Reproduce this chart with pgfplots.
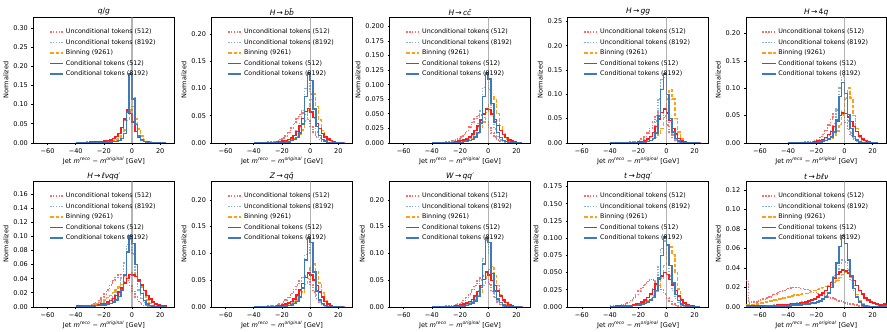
\documentclass[border=0pt]{standalone}
\usepackage{pgfplots}
\pgfplotsset{compat=1.18}
\usepackage{pgfplotstable}
\usepgfplotslibrary{groupplots}
\usepackage{fontspec}
\setmainfont{DejaVu Sans}

\definecolor{urc}{RGB}{250,110,110}
\definecolor{ubc}{RGB}{140,176,216}
\definecolor{bnc}{RGB}{255,160,20}
\definecolor{crc}{RGB}{255,25,25}
\definecolor{cbc}{RGB}{60,122,188}

% bin left edges (2 GeV), columns: uncond 512, uncond 8192, binning, cond 512, cond 8192
\pgfplotstableread{
x    ur     ub     bn     cr     cb
-40  0.001  0      0      0.001  0
-38  0.001  0      0      0.001  0
-36  0.001  0      0      0.001  0
-34  0.001  0      0.001  0.001  0
-32  0.002  0      0.001  0.001  0
-30  0.002  0.001  0.001  0.002  0.001
-28  0.002  0.001  0.001  0.002  0.001
-26  0.003  0.001  0.001  0.003  0.001
-24  0.003  0.001  0.002  0.003  0.001
-22  0.004  0.001  0.002  0.004  0.001
-20  0.005  0.002  0.003  0.005  0.001
-18  0.006  0.002  0.003  0.006  0.002
-16  0.008  0.003  0.004  0.008  0.002
-14  0.011  0.004  0.006  0.011  0.003
-12  0.015  0.005  0.008  0.016  0.004
-10  0.024  0.008  0.011  0.025  0.006
-8   0.038  0.014  0.018  0.040  0.011
-6   0.058  0.030  0.034  0.062  0.025
-4   0.078  0.075  0.058  0.086  0.080
-2   0.080  0.170  0.086  0.076  0.180
0    0.060  0.118  0.095  0.055  0.115
2    0.033  0.050  0.062  0.030  0.048
4    0.016  0.018  0.036  0.015  0.018
6    0.007  0.007  0.018  0.007  0.007
8    0.003  0.003  0.008  0.003  0.003
10   0.002  0.001  0.004  0.002  0.001
12   0.001  0.001  0.002  0.001  0.001
14   0.001  0      0.001  0.001  0
16   0      0      0.001  0      0
18   0      0      0      0      0
20   0      0      0      0      0
22   0      0      0      0      0
24   0      0      0      0      0
}\tqg

\pgfplotstableread{
x    ur     ub     bn     cr     cb
-40  0.001  0      0      0      0
-38  0.001  0      0      0      0
-36  0.001  0      0      0      0
-34  0.001  0      0      0.001  0
-32  0.001  0      0      0.001  0
-30  0.002  0      0      0.001  0
-28  0.002  0.001  0.001  0.001  0
-26  0.003  0.001  0.001  0.001  0.001
-24  0.004  0.001  0.001  0.002  0.001
-22  0.006  0.001  0.001  0.002  0.001
-20  0.009  0.002  0.002  0.003  0.001
-18  0.013  0.003  0.003  0.004  0.002
-16  0.019  0.005  0.004  0.006  0.002
-14  0.027  0.008  0.006  0.009  0.004
-12  0.036  0.014  0.008  0.014  0.006
-10  0.045  0.022  0.011  0.021  0.010
-8   0.052  0.036  0.016  0.031  0.018
-6   0.055  0.060  0.024  0.045  0.035
-4   0.052  0.100  0.040  0.058  0.085
-2   0.043  0.120  0.060  0.063  0.128
0    0.030  0.090  0.080  0.057  0.115
2    0.019  0.045  0.090  0.047  0.062
4    0.011  0.020  0.067  0.036  0.030
6    0.006  0.009  0.042  0.026  0.014
8    0.003  0.004  0.023  0.017  0.006
10   0.002  0.002  0.011  0.011  0.003
12   0.001  0.001  0.005  0.007  0.001
14   0.001  0      0.002  0.004  0.001
16   0      0      0.001  0.002  0
18   0      0      0      0.001  0
20   0      0      0      0.001  0
22   0      0      0      0      0
24   0      0      0      0      0
}\tbb

\pgfplotstableread{
x    ur     ub     bn     cr     cb
-40  0.001  0      0      0      0
-38  0.001  0      0      0      0
-36  0.001  0      0      0      0
-34  0.001  0      0      0.001  0
-32  0.001  0      0      0.001  0
-30  0.002  0      0.001  0.001  0
-28  0.002  0.001  0.001  0.001  0
-26  0.003  0.001  0.001  0.001  0.001
-24  0.005  0.001  0.001  0.002  0.001
-22  0.007  0.001  0.001  0.003  0.001
-20  0.010  0.002  0.002  0.004  0.001
-18  0.014  0.003  0.003  0.005  0.002
-16  0.020  0.005  0.004  0.007  0.003
-14  0.027  0.008  0.006  0.010  0.004
-12  0.035  0.013  0.008  0.015  0.006
-10  0.042  0.021  0.011  0.021  0.010
-8   0.047  0.033  0.016  0.029  0.018
-6   0.048  0.055  0.024  0.039  0.034
-4   0.044  0.095  0.036  0.050  0.080
-2   0.036  0.113  0.052  0.058  0.120
0    0.026  0.092  0.066  0.057  0.110
2    0.017  0.050  0.080  0.050  0.068
4    0.010  0.024  0.074  0.040  0.036
6    0.005  0.011  0.050  0.030  0.018
8    0.003  0.005  0.030  0.021  0.009
10   0.002  0.002  0.015  0.014  0.004
12   0.001  0.001  0.007  0.009  0.002
14   0      0      0.003  0.005  0.001
16   0      0      0.001  0.003  0
18   0      0      0      0.002  0
20   0      0      0      0.001  0
22   0      0      0      0      0
24   0      0      0      0      0
}\tcc

\pgfplotstableread{
x    ur     ub     bn     cr     cb
-40  0      0      0      0      0
-38  0      0      0      0      0
-36  0.001  0      0      0      0
-34  0.001  0      0      0      0
-32  0.001  0      0      0      0
-30  0.001  0      0      0.001  0
-28  0.001  0      0      0.001  0
-26  0.002  0.001  0      0.001  0
-24  0.002  0.001  0.001  0.001  0.001
-22  0.003  0.001  0.001  0.001  0.001
-20  0.005  0.001  0.001  0.002  0.001
-18  0.008  0.002  0.002  0.003  0.001
-16  0.013  0.003  0.002  0.005  0.002
-14  0.020  0.006  0.003  0.008  0.003
-12  0.030  0.011  0.005  0.013  0.005
-10  0.043  0.021  0.007  0.021  0.009
-8   0.056  0.045  0.011  0.034  0.020
-6   0.064  0.090  0.018  0.049  0.055
-4   0.062  0.130  0.030  0.063  0.110
-2   0.052  0.135  0.055  0.070  0.142
0    0.037  0.090  0.090  0.062  0.100
2    0.022  0.042  0.110  0.046  0.050
4    0.011  0.016  0.090  0.030  0.022
6    0.005  0.006  0.050  0.018  0.009
8    0.002  0.002  0.022  0.009  0.004
10   0.001  0.001  0.008  0.004  0.001
12   0      0      0.003  0.002  0.001
14   0      0      0.001  0.001  0
16   0      0      0      0      0
18   0      0      0      0      0
20   0      0      0      0      0
22   0      0      0      0      0
24   0      0      0      0      0
}\tgg

\pgfplotstableread{
x    ur     ub     bn     cr     cb
-40  0      0      0      0      0
-38  0      0      0      0      0
-36  0.001  0      0      0      0
-34  0.001  0      0      0      0
-32  0.001  0      0      0      0
-30  0.001  0      0      0.001  0
-28  0.002  0      0      0.001  0
-26  0.002  0.001  0      0.001  0
-24  0.003  0.001  0.001  0.001  0.001
-22  0.004  0.001  0.001  0.002  0.001
-20  0.006  0.002  0.001  0.003  0.001
-18  0.010  0.003  0.002  0.004  0.002
-16  0.015  0.005  0.003  0.006  0.003
-14  0.023  0.008  0.004  0.010  0.004
-12  0.033  0.013  0.006  0.015  0.007
-10  0.044  0.022  0.009  0.021  0.011
-8   0.054  0.035  0.014  0.030  0.020
-6   0.060  0.062  0.022  0.040  0.042
-4   0.058  0.100  0.034  0.050  0.085
-2   0.050  0.122  0.052  0.055  0.110
0    0.037  0.082  0.080  0.054  0.090
2    0.024  0.040  0.100  0.047  0.052
4    0.014  0.018  0.082  0.039  0.026
6    0.007  0.008  0.050  0.030  0.012
8    0.003  0.003  0.026  0.021  0.005
10   0.001  0.001  0.011  0.013  0.002
12   0.001  0      0.004  0.007  0.001
14   0      0      0.002  0.004  0
16   0      0      0.001  0.002  0
18   0      0      0      0.001  0
20   0      0      0      0      0
22   0      0      0      0      0
24   0      0      0      0      0
}\tfq

\pgfplotstableread{
x    ur     ub     bn     cr     cb
-40  0.001  0.001  0.001  0.001  0
-38  0.001  0.001  0.001  0.001  0
-36  0.001  0.001  0.001  0.001  0.001
-34  0.002  0.001  0.001  0.001  0.001
-32  0.002  0.001  0.002  0.001  0.001
-30  0.003  0.001  0.002  0.001  0.001
-28  0.004  0.002  0.003  0.002  0.001
-26  0.006  0.002  0.004  0.002  0.002
-24  0.009  0.003  0.006  0.003  0.002
-22  0.013  0.004  0.008  0.004  0.003
-20  0.018  0.006  0.010  0.005  0.003
-18  0.024  0.008  0.013  0.007  0.004
-16  0.031  0.011  0.016  0.009  0.005
-14  0.037  0.015  0.020  0.012  0.007
-12  0.042  0.021  0.024  0.016  0.010
-10  0.045  0.029  0.028  0.021  0.015
-8   0.046  0.041  0.032  0.027  0.024
-6   0.043  0.062  0.036  0.034  0.045
-4   0.037  0.088  0.040  0.040  0.078
-2   0.030  0.095  0.044  0.046  0.100
0    0.022  0.075  0.048  0.045  0.090
2    0.014  0.045  0.045  0.043  0.060
4    0.008  0.024  0.038  0.038  0.036
6    0.004  0.012  0.028  0.031  0.019
8    0.002  0.006  0.018  0.023  0.009
10   0.001  0.003  0.010  0.016  0.004
12   0.001  0.001  0.005  0.011  0.002
14   0      0.001  0.002  0.007  0.001
16   0      0      0.001  0.004  0
18   0      0      0      0.003  0
20   0      0      0      0.002  0
22   0      0      0      0.001  0
24   0      0      0      0      0
}\tlv

\pgfplotstableread{
x    ur     ub     bn     cr     cb
-40  0      0      0      0      0
-38  0      0      0      0      0
-36  0.001  0      0      0      0
-34  0.001  0      0      0      0
-32  0.001  0      0      0.001  0
-30  0.002  0      0      0.001  0
-28  0.002  0.001  0.001  0.001  0
-26  0.003  0.001  0.001  0.001  0.001
-24  0.004  0.001  0.001  0.002  0.001
-22  0.006  0.001  0.001  0.003  0.001
-20  0.009  0.002  0.002  0.004  0.001
-18  0.013  0.003  0.003  0.005  0.002
-16  0.018  0.005  0.004  0.007  0.003
-14  0.025  0.008  0.006  0.010  0.004
-12  0.033  0.013  0.009  0.015  0.006
-10  0.041  0.020  0.013  0.022  0.010
-8   0.049  0.032  0.019  0.032  0.018
-6   0.055  0.055  0.028  0.044  0.035
-4   0.058  0.098  0.042  0.055  0.088
-2   0.053  0.130  0.058  0.063  0.130
0    0.042  0.100  0.074  0.060  0.120
2    0.028  0.050  0.080  0.050  0.065
4    0.016  0.022  0.066  0.040  0.030
6    0.008  0.009  0.045  0.028  0.013
8    0.004  0.004  0.026  0.018  0.006
10   0.002  0.002  0.013  0.010  0.003
12   0.001  0.001  0.006  0.005  0.001
14   0      0      0.002  0.003  0.001
16   0      0      0.001  0.001  0
18   0      0      0      0.001  0
20   0      0      0      0      0
22   0      0      0      0      0
24   0      0      0      0      0
}\tzq

\pgfplotstableread{
x    ur     ub     bn     cr     cb
-40  0      0      0      0      0
-38  0      0      0      0      0
-36  0.001  0      0      0      0
-34  0.001  0      0      0      0
-32  0.001  0      0      0.001  0
-30  0.002  0      0      0.001  0
-28  0.002  0.001  0.001  0.001  0
-26  0.003  0.001  0.001  0.001  0.001
-24  0.004  0.001  0.001  0.002  0.001
-22  0.006  0.001  0.002  0.003  0.001
-20  0.008  0.002  0.002  0.004  0.002
-18  0.012  0.003  0.003  0.005  0.002
-16  0.017  0.005  0.005  0.007  0.003
-14  0.024  0.008  0.007  0.010  0.005
-12  0.032  0.013  0.010  0.014  0.007
-10  0.040  0.020  0.014  0.020  0.011
-8   0.048  0.030  0.020  0.029  0.019
-6   0.054  0.050  0.028  0.040  0.036
-4   0.058  0.090  0.040  0.051  0.080
-2   0.054  0.125  0.056  0.065  0.130
0    0.043  0.100  0.070  0.060  0.120
2    0.029  0.050  0.076  0.049  0.062
4    0.017  0.024  0.060  0.040  0.030
6    0.009  0.011  0.040  0.030  0.015
8    0.004  0.005  0.022  0.020  0.008
10   0.002  0.002  0.011  0.013  0.004
12   0.001  0.001  0.005  0.008  0.002
14   0      0      0.002  0.004  0.001
16   0      0      0.001  0.002  0
18   0      0      0      0.001  0
20   0      0      0      0.001  0
22   0      0      0      0      0
24   0      0      0      0      0
}\twq

\pgfplotstableread{
x    ur     ub     bn     cr     cb
-40  0.001  0      0      0      0
-38  0.001  0      0      0      0
-36  0.002  0      0      0.001  0
-34  0.002  0.001  0.001  0.001  0
-32  0.003  0.001  0.001  0.001  0.001
-30  0.004  0.001  0.001  0.001  0.001
-28  0.006  0.001  0.001  0.002  0.001
-26  0.009  0.002  0.002  0.002  0.001
-24  0.013  0.002  0.002  0.003  0.002
-22  0.018  0.003  0.003  0.004  0.002
-20  0.023  0.005  0.004  0.005  0.003
-18  0.028  0.007  0.005  0.007  0.004
-16  0.033  0.010  0.007  0.010  0.005
-14  0.037  0.014  0.009  0.014  0.007
-12  0.040  0.019  0.012  0.019  0.010
-10  0.039  0.026  0.016  0.025  0.014
-8   0.036  0.038  0.022  0.033  0.024
-6   0.031  0.058  0.030  0.040  0.042
-4   0.025  0.085  0.042  0.045  0.075
-2   0.019  0.096  0.060  0.050  0.102
0    0.013  0.075  0.080  0.047  0.090
2    0.008  0.045  0.087  0.040  0.060
4    0.004  0.024  0.076  0.032  0.035
6    0.002  0.012  0.050  0.024  0.018
8    0.001  0.006  0.026  0.016  0.009
10   0.001  0.003  0.012  0.010  0.004
12   0      0.001  0.005  0.006  0.002
14   0      0.001  0.002  0.003  0.001
16   0      0      0.001  0.002  0
18   0      0      0      0.001  0
20   0      0      0      0      0
22   0      0      0      0      0
24   0      0      0      0      0
}\ttq

\pgfplotstableread{
x    ur     ub     bn     cr     cb
-70  0.027  0.001  0.002  0.001  0.001
-68  0.004  0.001  0.002  0.001  0
-66  0.005  0.001  0.002  0.001  0
-64  0.005  0.001  0.003  0.001  0
-62  0.006  0.001  0.003  0.001  0
-60  0.007  0.001  0.004  0.001  0
-58  0.008  0.001  0.004  0.001  0
-56  0.009  0.001  0.005  0.001  0.001
-54  0.010  0.001  0.006  0.001  0.001
-52  0.012  0.001  0.006  0.001  0.001
-50  0.013  0.002  0.007  0.001  0.001
-48  0.015  0.002  0.008  0.002  0.001
-46  0.016  0.002  0.008  0.002  0.001
-44  0.017  0.002  0.009  0.002  0.001
-42  0.018  0.002  0.010  0.002  0.001
-40  0.019  0.003  0.010  0.002  0.001
-38  0.020  0.003  0.011  0.003  0.002
-36  0.020  0.003  0.012  0.003  0.002
-34  0.020  0.004  0.012  0.003  0.002
-32  0.019  0.004  0.013  0.004  0.002
-30  0.019  0.005  0.014  0.004  0.003
-28  0.018  0.005  0.014  0.005  0.003
-26  0.017  0.006  0.015  0.006  0.003
-24  0.016  0.007  0.016  0.007  0.004
-22  0.015  0.008  0.017  0.008  0.004
-20  0.014  0.010  0.018  0.010  0.005
-18  0.013  0.012  0.019  0.012  0.006
-16  0.012  0.014  0.020  0.014  0.008
-14  0.011  0.017  0.021  0.017  0.010
-12  0.010  0.021  0.022  0.021  0.014
-10  0.009  0.026  0.023  0.025  0.020
-8   0.008  0.032  0.025  0.029  0.030
-6   0.007  0.039  0.027  0.033  0.045
-4   0.006  0.045  0.030  0.036  0.062
-2   0.005  0.048  0.033  0.038  0.073
0    0.004  0.046  0.035  0.037  0.065
2    0.003  0.038  0.035  0.035  0.048
4    0.003  0.027  0.030  0.031  0.032
6    0.002  0.017  0.022  0.027  0.019
8    0.002  0.010  0.013  0.022  0.010
10   0.001  0.005  0.006  0.017  0.005
12   0.001  0.003  0.003  0.013  0.002
14   0.001  0.001  0.001  0.009  0.001
16   0      0.001  0      0.007  0
18   0      0      0      0.005  0
20   0      0      0      0.004  0
22   0      0      0      0.003  0
24   0      0      0      0.002  0
26   0      0      0      0.002  0
28   0.001  0.001  0.001  0.003  0.001
30   0      0      0      0      0
}\ttl

\pgfplotsset{
  urs/.style={const plot, color=urc, line width=1.4pt, dash pattern=on 1.4pt off 1.4pt},
  ubs/.style={const plot, color=ubc, line width=1.4pt, dash pattern=on 1.4pt off 1.4pt},
  bns/.style={const plot, color=bnc, line width=1.4pt, dash pattern=on 3.6pt off 1.8pt},
  crs/.style={const plot, color=crc, line width=1.5pt},
  cbs/.style={const plot, color=cbc, line width=1.5pt},
}

\newcommand{\hists}[1]{%
  \addplot[urs] table[x=x, y=ur] {#1};
  \addplot[ubs] table[x=x, y=ub] {#1};
  \addplot[bns] table[x=x, y=bn] {#1};
  \addplot[crs] table[x=x, y=cr] {#1};
  \addplot[cbs] table[x=x, y=cb] {#1};
  \addplot[gray, opacity=0.6, line width=1.2pt, forget plot] coordinates {(0,0) (0,1)};
  \legend{Unconditional tokens (512), Unconditional tokens (8192), Binning (9261), Conditional tokens (512), Conditional tokens (8192)}%
}

\begin{document}
\begin{tikzpicture}
\begin{groupplot}[
  group style={group size=5 by 2, horizontal sep=37pt, vertical sep=38pt},
  scale only axis, width=140pt, height=125pt,
  xmin=-70, xmax=30, ymin=0,
  xtick={-60,-40,-20,0,20},
  xticklabels={−60,−40,−20,0,20},
  tick align=outside, xtick pos=bottom, ytick pos=left,
  major tick length=2pt,
  axis line style={line width=0.6pt},
  tick style={black, line width=0.6pt},
  tick label style={font=\fontsize{6.5}{7}\selectfont},
  /pgf/number format/assume math mode=true,
  yticklabel style={/pgf/number format/.cd, fixed, fixed zerofill, precision=2},
  xlabel={Jet \textit{m\textsuperscript{reco}} − \textit{m\textsuperscript{original}} [GeV]},
  ylabel={Normalized},
  label style={font=\fontsize{6.5}{7}\selectfont},
  xlabel style={yshift=3pt},
  ylabel style={yshift=-2pt},
  title style={font=\fontsize{7.5}{8}\selectfont, yshift=-8pt},
  legend style={draw=none, fill=none, at={(0.09,0.94)}, anchor=north west,
    font=\fontsize{6.3}{7}\selectfont, row sep=0.1pt},
  legend cell align=left,
  legend image code/.code={\draw[#1] plot coordinates {(0pt,0pt) (13pt,0pt)};},
]
\nextgroupplot[title={\textit{q}/\textit{g}}, ymax=0.328, ytick={0,0.05,0.10,0.15,0.20,0.25,0.30}]
\hists{\tqg}
\nextgroupplot[title={\textit{H}\,→\,\textit{bb̄}}, ymax=0.231, ytick={0,0.05,0.10,0.15,0.20}]
\hists{\tbb}
\nextgroupplot[title={\textit{H}\,→\,\textit{cc̄}}, ymax=0.216, ytick={0,0.025,0.05,0.075,0.10,0.125,0.15,0.175,0.20},
  yticklabel style={/pgf/number format/precision=3}]
\hists{\tcc}
\nextgroupplot[title={\textit{H}\,→\,\textit{gg}}, ymax=0.259, ytick={0,0.05,0.10,0.15,0.20,0.25}]
\hists{\tgg}
\nextgroupplot[title={\textit{H}\,→\,4\textit{q}}, ymax=0.23, ytick={0,0.05,0.10,0.15,0.20}]
\hists{\tfq}
\nextgroupplot[title={\textit{H}\,→\,\textit{ℓνqq}′}, ymax=0.178, ytick={0,0.02,0.04,0.06,0.08,0.10,0.12,0.14,0.16}]
\hists{\tlv}
\nextgroupplot[title={\textit{Z}\,→\,\textit{qq̄}}, ymax=0.235, ytick={0,0.05,0.10,0.15,0.20}]
\hists{\tzq}
\nextgroupplot[title={\textit{W}\,→\,\textit{qq}′}, ymax=0.235, ytick={0,0.05,0.10,0.15,0.20}]
\hists{\twq}
\nextgroupplot[title={\textit{t}\,→\,\textit{bqq}′}, ymax=0.183, ytick={0,0.025,0.05,0.075,0.10,0.125,0.15,0.175},
  yticklabel style={/pgf/number format/precision=3}]
\hists{\ttq}
\nextgroupplot[title={\textit{t}\,→\,\textit{bℓν}}, ymax=0.129, ytick={0,0.02,0.04,0.06,0.08,0.10,0.12}]
\hists{\ttl}
\end{groupplot}
\path ([yshift=17pt]group c1r1.north west);
\end{tikzpicture}
\end{document}
